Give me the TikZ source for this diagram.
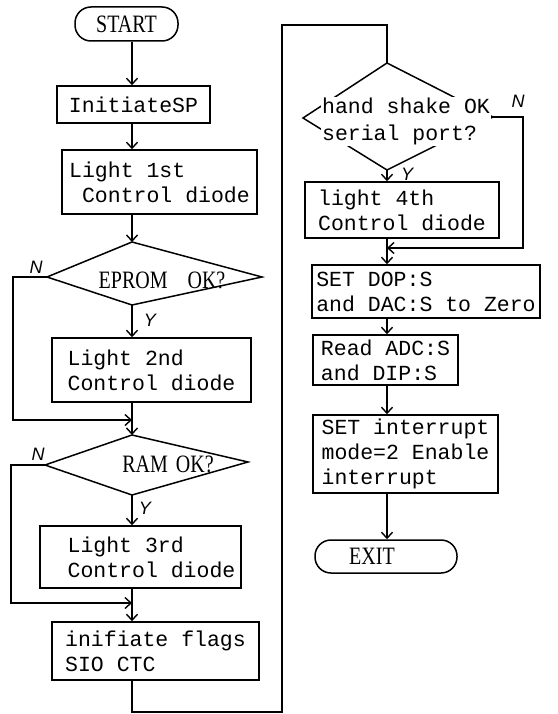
\documentclass[tikz,border=0pt]{standalone}
\usepackage{fontspec}
\usepackage{graphicx}
\setmainfont{Liberation Serif}
\setmonofont{Liberation Mono}
\newfontfamily\lblfont{Liberation Sans}
\usetikzlibrary{arrows.meta}
\tikzset{
  ln/.style={line width=1.5pt},
  arr/.style={ln,-{Straight Barb[length=6pt,width=11pt,line width=1.4pt]}},
  box/.style={draw,ln,font=\ttfamily\fontsize{21.5}{25}\selectfont,align=left,inner sep=0pt},
  term/.style={draw,ln,rounded corners=16pt,font=\fontsize{20}{24}\selectfont,inner sep=0pt},
  dtext/.style={font=\fontsize{20}{24}\selectfont,inner sep=0pt},
  htext/.style={font=\ttfamily\fontsize{21.5}{27}\selectfont,align=left,inner sep=1pt,fill=white},
  yn/.style={font=\lblfont\itshape\fontsize{18}{20}\selectfont,inner sep=0pt},
}
\newcommand{\tall}[1]{\scalebox{1}[1.25]{#1}}
\begin{document}
\begin{tikzpicture}[x=1pt,y=-1pt]
\useasboundingbox (0,0) rectangle (557,714);
\coordinate (cl) at (132,0);
\coordinate (cr) at (387,0);
% left column
\node[term,minimum width=103pt,minimum height=34pt] (start) at (126.5,24) {\tall{START}};
\node[box,minimum width=153pt,minimum height=37pt] (init) at (133.5,104.5) {InitiateSP};
\node[box,minimum width=195pt,minimum height=64pt] (l1) at (159.5,182) {Light 1st\\\hspace*{0.6em}Control diode};
\coordinate (epT) at (132,242);
\coordinate (epR) at (262,277);
\coordinate (epB) at (132,305);
\coordinate (epL) at (47,277);
\draw[ln] (epT) -- (epR) -- (epB) -- (epL) -- cycle;
\node[dtext] (eptext) at (162,280) {\tall{EPROM\hspace{20pt}OK?}};
\node[box,minimum width=199pt,minimum height=64pt] (l2) at (151.5,370) {Light 2nd\\Control diode};
\coordinate (raT) at (132,435);
\coordinate (raR) at (248,462);
\coordinate (raB) at (132,495);
\coordinate (raL) at (45,465);
\draw[ln] (raT) -- (raR) -- (raB) -- (raL) -- cycle;
\node[dtext] (ratext) at (168,464) {\tall{RAM\hspace{8pt}OK?}};
\node[box,minimum width=201pt,minimum height=62pt] (l3) at (140.5,557) {\hspace*{22pt}Light 3rd\\\hspace*{22pt}Control diode};
\node[box,minimum width=207pt,minimum height=58pt] (inif) at (155.5,651) {inifiate flags\\SIO CTC};
% right column
\coordinate (hsT) at (387,63);
\coordinate (hsR) at (493,117);
\coordinate (hsB) at (387,170);
\coordinate (hsL) at (303,118);
\draw[ln] (hsT) -- (hsR) -- (hsB) -- (hsL) -- cycle;
\node[htext] (hstext) at (406,121.5) {hand shake OK\\serial port?};
\node[box,minimum width=194pt,minimum height=56pt] (l4) at (402,210) {light 4th\\Control diode};
\node[box,minimum width=228pt,minimum height=53pt] (sd) at (426,291.5) {SET DOP:S\\and DAC:S to Zero};
\node[box,minimum width=145pt,minimum height=50pt] (rd) at (385.5,360) {Read ADC:S\\and DIP:S};
\node[box,minimum width=185pt,minimum height=78pt] (si) at (405.5,454) {SET interrupt\\mode=2 Enable\\interrupt};
\node[term,minimum width=142pt,minimum height=33pt] (exit) at (386,556.5) {\tall{EXIT}\hspace*{28pt}};
% labels
\node[yn] (n1) at (36,267) {N};
\node[yn] (y1) at (150,320) {Y};
\node[yn] (n2) at (38,454) {N};
\node[yn] (y2) at (145,508) {Y};
\node[yn] (n3) at (518,101) {N};
\node[yn] (y3) at (407,174) {Y};
% connectors
\coordinate (j1) at (132,420);
\coordinate (j2) at (132,603);
\coordinate (j3) at (387,248);
\coordinate (b1) at (132,712);
\coordinate (b2) at (282,712);
\coordinate (t1) at (282,25);
\coordinate (t2) at (387,25);
\draw[arr] (start.south -| cl) -- (init.north -| cl);
\draw[arr] (init.south -| cl) -- (l1.north -| cl);
\draw[arr] (l1.south -| cl) -- (epT);
\draw[arr] (epB) -- (l2.north -| cl);
\draw[arr] (epL) -- ++(-34,0) |- (j1);
\draw[arr] (l2.south -| cl) -- (raT);
\draw[arr] (raB) -- (l3.north -| cl);
\draw[arr] (raL) -- ++(-34,0) |- (j2);
\draw[arr] (l3.south -| cl) -- (inif.north -| cl);
\draw[ln] (inif.south -| cl) -- (b1) -- (b2) -- (t1) -- (t2) -- (hsT);
\draw[arr] (hsB) -- (l4.north -| cr);
\draw[arr] (hsR) -- ++(30,0) |- (j3);
\draw[arr] (l4.south -| cr) -- (sd.north -| cr);
\draw[arr] (sd.south -| cr) -- (rd.north -| cr);
\draw[arr] (rd.south -| cr) -- (si.north -| cr);
\draw[arr] (si.south -| cr) -- (exit.north -| cr);
\end{tikzpicture}
\end{document}
